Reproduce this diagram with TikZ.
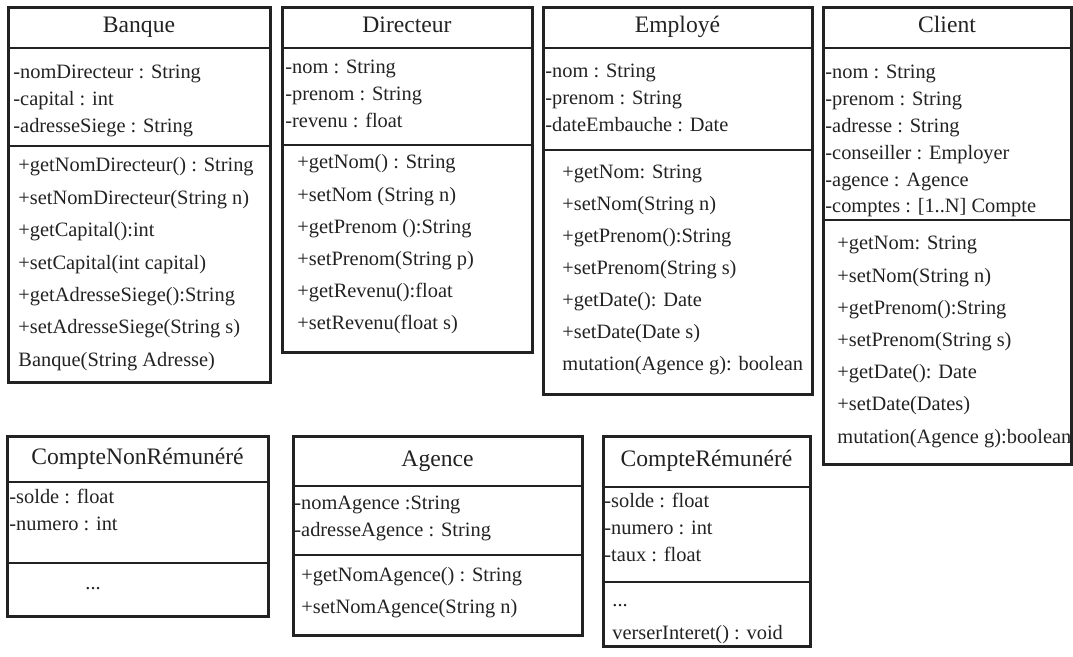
\documentclass[tikz,border=0pt]{standalone}
\usepackage{fontspec}
\setmainfont{Liberation Serif}
\usetikzlibrary{positioning}
\definecolor{umlink}{HTML}{222222}
\newcommand{\titlefont}{\fontsize{11.8}{14}\selectfont}
\newcommand{\memberfont}{\fontsize{10.2}{12}\selectfont}

\begin{document}
\begin{tikzpicture}[
  x=0.5pt, y=-0.5pt,
  titlebox/.style={rectangle, draw=umlink, line width=1pt, anchor=north west, inner sep=0pt, outer sep=0pt, text=umlink, font=\titlefont, text height=7.5pt, text depth=2.5pt},
  compart/.style={rectangle, draw=umlink, line width=1pt, anchor=north west, inner sep=0pt, outer sep=0pt},
  member/.style={anchor=base west, inner sep=0pt, text=umlink, font=\memberfont},
  frame/.style={draw=umlink, line width=1.5pt},
]
\useasboundingbox (0,0) rectangle (1073,657);

% Banque
\node[titlebox, minimum width=131pt, minimum height=20pt] (banqueT) at (8,8) {Banque};
\node[compart, minimum width=131pt, minimum height=49pt] (banqueA) at (banqueT.south west) {};
\node[compart, minimum width=131pt, minimum height=118.5pt] (banqueO) at (banqueA.south west) {};
\draw[frame] (banqueT.north west) rectangle (banqueO.south east);
\foreach \entry [count=\i from 0] in {-nomDirecteur : String, -capital : int, -adresseSiege : String}
  \node[member] (banqueA\i) at (13,79+26.6*\i) {\entry};
\foreach \entry [count=\i from 0] in {+getNomDirecteur() : String, +setNomDirecteur(String n), +getCapital():int, +setCapital(int capital), +getAdresseSiege():String, +setAdresseSiege(String s), Banque(String Adresse)}
  \node[member] (banqueO\i) at (18,172+32.4*\i) {\entry};

% Directeur
\node[titlebox, minimum width=125pt, minimum height=20pt] (directeurT) at (282,8) {Directeur};
\node[compart, minimum width=125pt, minimum height=48.5pt] (directeurA) at (directeurT.south west) {};
\node[compart, minimum width=125pt, minimum height=104pt] (directeurO) at (directeurA.south west) {};
\draw[frame] (directeurT.north west) rectangle (directeurO.south east);
\foreach \entry [count=\i from 0] in {-nom : String, -prenom : String, -revenu : float}
  \node[member] (directeurA\i) at (285,74+26.6*\i) {\entry};
\foreach \entry [count=\i from 0] in {+getNom() : String, +setNom (String n), +getPrenom ():String, +setPrenom(String p), +getRevenu():float, +setRevenu(float s)}
  \node[member] (directeurO\i) at (297,169+32.2*\i) {\entry};

% Employe
\node[titlebox, minimum width=134.5pt, minimum height=20pt] (employeT) at (543,8) {Employé};
\node[compart, minimum width=134.5pt, minimum height=51pt] (employeA) at (employeT.south west) {};
\node[compart, minimum width=134.5pt, minimum height=122.5pt] (employeO) at (employeA.south west) {};
\draw[frame] (employeT.north west) rectangle (employeO.south east);
\foreach \entry [count=\i from 0] in {-nom : String, -prenom : String, -dateEmbauche : Date}
  \node[member] (employeA\i) at (545,78+26.6*\i) {\entry};
\foreach \entry [count=\i from 0] in {+getNom: String, +setNom(String n), +getPrenom():String, +setPrenom(String s), +getDate(): Date, +setDate(Date s), mutation(Agence g): boolean}
  \node[member] (employeO\i) at (562,179+31.9*\i) {\entry};

% Client
\node[titlebox, minimum width=124pt, minimum height=20pt] (clientT) at (823,8) {Client};
\node[compart, minimum width=124pt, minimum height=86pt] (clientA) at (clientT.south west) {};
\node[compart, minimum width=124pt, minimum height=122.5pt] (clientO) at (clientA.south west) {};
\draw[frame] (clientT.north west) rectangle (clientO.south east);
\foreach \entry [count=\i from 0] in {-nom : String, -prenom : String, -adresse : String, -conseiller : Employer, -agence : Agence, -comptes : [1..N] Compte}
  \node[member] (clientA\i) at (825,79+26.8*\i) {\entry};
\foreach \entry [count=\i from 0] in {+getNom: String, +setNom(String n), +getPrenom():String, +setPrenom(String s), +getDate(): Date, +setDate(Dates), mutation(Agence g):boolean}
  \node[member] (clientO\i) at (837,250+32.2*\i) {\entry};

% CompteNonRemunere
\node[titlebox, minimum width=130.5pt, minimum height=22.5pt] (cnrT) at (7,437) {CompteNonRémunéré};
\node[compart, minimum width=130.5pt, minimum height=40.5pt] (cnrA) at (cnrT.south west) {};
\node[compart, minimum width=130.5pt, minimum height=27pt] (cnrO) at (cnrA.south west) {};
\draw[frame] (cnrT.north west) rectangle (cnrO.south east);
\foreach \entry [count=\i from 0] in {-solde : float, -numero : int}
  \node[member] (cnrA\i) at (9,504+26.6*\i) {\entry};
\node[member] (cnrO0) at (85,590) {...};

% Agence
\node[titlebox, minimum width=144.5pt, minimum height=24.5pt] (agenceT) at (293,437) {Agence};
\node[compart, minimum width=144.5pt, minimum height=34.5pt] (agenceA) at (agenceT.south west) {};
\node[compart, minimum width=144.5pt, minimum height=40.5pt] (agenceO) at (agenceA.south west) {};
\draw[frame] (agenceT.north west) rectangle (agenceO.south east);
\foreach \entry [count=\i from 0] in {-nomAgence :String, -adresseAgence : String}
  \node[member] (agenceA\i) at (294,510+27*\i) {\entry};
\foreach \entry [count=\i from 0] in {+getNomAgence() : String, +setNomAgence(String n)}
  \node[member] (agenceO\i) at (301,582+32*\i) {\entry};

% CompteRemunere
\node[titlebox, minimum width=103.5pt, minimum height=25pt] (crT) at (603,437) {CompteRémunéré};
\node[compart, minimum width=103.5pt, minimum height=47.5pt] (crA) at (crT.south west) {};
\node[compart, minimum width=103.5pt, minimum height=32.5pt] (crO) at (crA.south west) {};
\draw[frame] (crT.north west) rectangle (crO.south east);
\foreach \entry [count=\i from 0] in {-solde : float, -numero : int, -taux : float}
  \node[member] (crA\i) at (604,508+26.6*\i) {\entry};
\node[member] (crO0) at (612,607) {...};
\node[member] (crO1) at (612,640) {verserInteret() : void};
\end{tikzpicture}
\end{document}
